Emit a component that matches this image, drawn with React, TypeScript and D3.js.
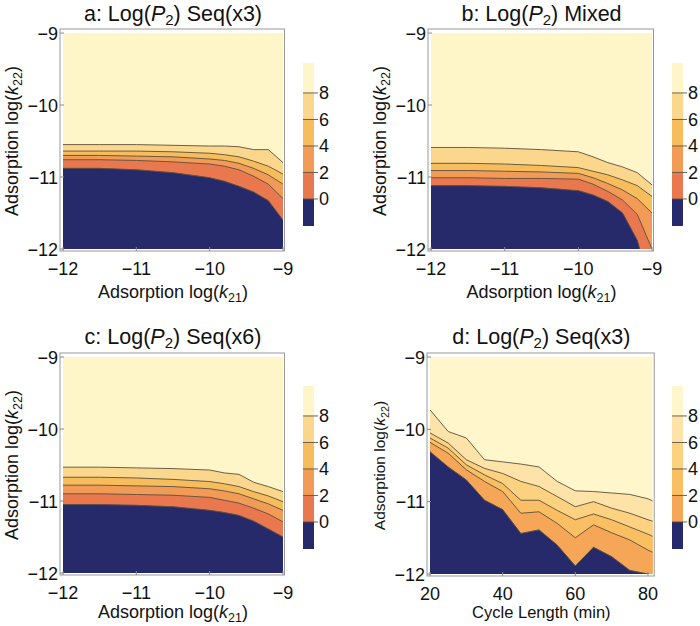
import React from "react";
import * as d3 from "d3";

const FONT = "'Liberation Sans', Arial, Helvetica, sans-serif";
const MINUS = "\u2212";

// tick labels
const kTicks = [-12, -11, -10, -9];
const cycleTicks = [20, 40, 60, 80];
const legendTicks = [0, 2, 4, 6, 8];

// colour bands: below 0, 0-2, 2-4, 4-6, 6-8, above 8
const paletteSeq = ["#262a6b", "#e9784f", "#f19b56", "#f7bd5c", "#fbd78e", "#fef5c8"];
const paletteCycle = ["#262a6b", "#f5a657", "#f9bf62", "#fcd281", "#fde3a8", "#fff6cc"];

// x grid for panels a-c: log(k21)
const kGrid = [-12, -11.5, -11, -10.5, -10, -9.8, -9.6, -9.4, -9.2, -9];

// panel a: contour positions (log k22) of Log(P2) = 0,2,4,6,8
const aLevel0 = [-10.88, -10.88, -10.9, -10.94, -11.01, -11.06, -11.13, -11.21, -11.33, -11.6];
const aLevel2 = [-10.76, -10.76, -10.77, -10.79, -10.82, -10.85, -10.9, -10.99, -11.1, -11.3];
const aLevel4 = [-10.7, -10.7, -10.71, -10.72, -10.75, -10.77, -10.81, -10.88, -10.97, -11.1];
const aLevel6 = [-10.64, -10.64, -10.64, -10.65, -10.67, -10.69, -10.72, -10.78, -10.85, -10.96];
const aLevel8 = [-10.55, -10.55, -10.55, -10.56, -10.57, -10.57, -10.58, -10.62, -10.62, -10.8];

// panel b
const bLevel0 = [-11.12, -11.12, -11.13, -11.15, -11.19, -11.25, -11.34, -11.5, -11.88, -12.6];
const bLevel2 = [-11.01, -11.01, -11.02, -11.02, -11.03, -11.1, -11.2, -11.32, -11.52, -12.0];
const bLevel4 = [-10.91, -10.91, -10.92, -10.93, -10.95, -11.01, -11.09, -11.18, -11.3, -11.5];
const bLevel6 = [-10.81, -10.81, -10.82, -10.84, -10.87, -10.92, -10.97, -11.04, -11.12, -11.27];
const bLevel8 = [-10.59, -10.59, -10.6, -10.62, -10.65, -10.72, -10.8, -10.86, -10.94, -11.11];

// panel c
const cLevel0 = [-11.05, -11.05, -11.06, -11.08, -11.13, -11.16, -11.2, -11.28, -11.39, -11.5];
const cLevel2 = [-10.9, -10.9, -10.91, -10.92, -10.95, -10.99, -11.03, -11.1, -11.18, -11.29];
const cLevel4 = [-10.78, -10.78, -10.79, -10.8, -10.83, -10.86, -10.9, -10.97, -11.04, -11.13];
const cLevel6 = [-10.67, -10.67, -10.68, -10.7, -10.73, -10.76, -10.8, -10.87, -10.93, -11.01];
const cLevel8 = [-10.53, -10.53, -10.54, -10.55, -10.57, -10.61, -10.63, -10.74, -10.8, -10.87];

// panel d: x = cycle length (min)
const cycleGrid = [20, 25, 30, 35, 40, 45, 50, 55, 60, 65, 70, 75, 80, 81.3];
const dLevel0 = [-10.31, -10.52, -10.7, -10.98, -11.11, -11.44, -11.39, -11.6, -11.89, -11.63, -11.76, -11.95, -12.0, -12.02];
const dLevel2 = [-10.18, -10.33, -10.56, -10.72, -10.86, -11.16, -11.14, -11.3, -11.5, -11.32, -11.43, -11.53, -11.67, -11.7];
const dLevel4 = [-10.12, -10.26, -10.49, -10.63, -10.75, -10.98, -10.98, -11.12, -11.25, -11.17, -11.25, -11.35, -11.45, -11.48];
const dLevel6 = [-10.05, -10.19, -10.42, -10.54, -10.61, -10.72, -10.79, -10.93, -11.07, -11.0, -11.09, -11.16, -11.25, -11.27];
const dLevel8 = [-9.73, -10.03, -10.12, -10.42, -10.45, -10.48, -10.52, -10.72, -10.85, -10.86, -10.88, -10.9, -10.96, -10.99];

const fmt = (v: number) => (v < 0 ? MINUS + Math.abs(v) : String(v));

type PanelProps = {
  id: string;
  letter: string;
  suffix: string;
  xs: number[];
  levels: number[][]; // 0,2,4,6,8
  palette: string[];
  xDom: [number, number];
  xRng: [number, number];
  yRng: [number, number];
  xTicks: number[];
  xLabel: "k21" | "cycle";
  yLabelSize: number;
  titleY: number;
  xLabelY: number;
  yLabelX: number;
  legendX: number;
  legendTop: number;
};

function Panel(p: PanelProps) {
  const x = d3.scaleLinear().domain(p.xDom).range(p.xRng);
  const y = d3.scaleLinear().domain([-9, -12]).range(p.yRng);
  const xmin = p.xs[0];
  const xmax = p.xs[p.xs.length - 1];
  const fx0 = x(xmin), fx1 = x(xmax), fy0 = y(-9), fy1 = y(-12);
  const frame = { l: fx0 - 3, r: fx1 + 1.5, t: fy0 - 4, b: fy1 + 2 };
  const area = d3
    .area<number>()
    .x((_, i) => x(p.xs[i]))
    .y0(y(-13))
    .y1((d) => y(d));
  const line = d3
    .line<number>()
    .x((_, i) => x(p.xs[i]))
    .y((d) => y(d));
  const clipId = "clip-" + p.id;
  const cx = (fx0 + fx1) / 2;
  const cy = (fy0 + fy1) / 2;

  // legend
  const lw = 11;
  const lh = 163;
  const ls = d3.scaleLinear().domain([-2.04, 10.26]).range([p.legendTop + lh, p.legendTop]);
  const bandEdges = [-2.04, 0, 2, 4, 6, 8, 10.26];

  const stroke = "#5b5140";
  const tickColor = "#8a8a8a";

  return (
    <g fontFamily={FONT}>
      <defs>
        <clipPath id={clipId}>
          <rect x={fx0} y={fy0} width={fx1 - fx0} height={fy1 - fy0} />
        </clipPath>
      </defs>
      <g clipPath={`url(#${clipId})`}>
        <rect x={fx0} y={fy0} width={fx1 - fx0} height={fy1 - fy0} fill={p.palette[5]} />
        {[4, 3, 2, 1, 0].map((k) => (
          <path key={"a" + k} d={area(p.levels[k]) || ""} fill={p.palette[k]} stroke={p.palette[k]} strokeWidth={0.3} />
        ))}
        {[4, 3, 2, 1, 0].map((k) => (
          <path key={"l" + k} d={line(p.levels[k]) || ""} fill="none" stroke={stroke} strokeWidth={0.9} />
        ))}
      </g>
      <rect x={frame.l} y={frame.t} width={frame.r - frame.l} height={frame.b - frame.t} fill="none" stroke="#999" strokeWidth={1} />
      {p.xTicks.map((t) => (
        <g key={"xt" + t}>
          <line x1={x(t)} x2={x(t)} y1={frame.b} y2={frame.b - 4} stroke={tickColor} strokeWidth={1} />
          <text x={x(t)} y={frame.b + 24} textAnchor="middle" fontSize={18} fill="#111">
            {fmt(t)}
          </text>
        </g>
      ))}
      {kTicks.map((t) => (
        <g key={"yt" + t}>
          <line x1={frame.l} x2={frame.l + 4} y1={y(t)} y2={y(t)} stroke={tickColor} strokeWidth={1} />
          <text x={frame.l - 2} y={y(t) + 6.5} textAnchor="end" fontSize={18} fill="#111">
            {fmt(t)}
          </text>
        </g>
      ))}
      <text x={cx} y={p.titleY} textAnchor="middle" fontSize={21.5} fill="#111">
        {p.letter}: Log(<tspan fontStyle="italic">P</tspan>
        <tspan fontSize={15} dy={4}>2</tspan>
        <tspan dy={-4}>) {p.suffix}</tspan>
      </text>
      {p.xLabel === "k21" ? (
        <text x={cx} y={p.xLabelY} textAnchor="middle" fontSize={18} fill="#111">
          Adsorption log(<tspan fontStyle="italic">k</tspan>
          <tspan fontSize={12.5} dy={4}>21</tspan>
          <tspan dy={-4}>)</tspan>
        </text>
      ) : (
        <text x={cx} y={p.xLabelY} textAnchor="middle" fontSize={16.5} fill="#111">
          Cycle Length (min)
        </text>
      )}
      <text
        transform={`translate(${p.yLabelX},${cy}) rotate(-90)`}
        textAnchor="middle"
        fontSize={p.yLabelSize}
        fill="#111"
      >
        Adsorption log(<tspan fontStyle="italic">k</tspan>
        <tspan fontSize={p.yLabelSize * 0.7} dy={4}>22</tspan>
        <tspan dy={-4}>)</tspan>
      </text>
      {/* legend */}
      {bandEdges.slice(0, -1).map((v, i) => (
        <rect
          key={"lb" + i}
          x={p.legendX}
          y={ls(bandEdges[i + 1])}
          width={lw}
          height={ls(v) - ls(bandEdges[i + 1])}
          fill={p.palette[i]}
        />
      ))}
      {legendTicks.map((t) => (
        <g key={"lt" + t}>
          <line x1={p.legendX} x2={p.legendX + lw + 4} y1={ls(t)} y2={ls(t)} stroke={stroke} strokeWidth={0.9} />
          <text x={p.legendX + lw + 5} y={ls(t) + 6.5} fontSize={18} fill="#111">
            {t}
          </text>
        </g>
      ))}
    </g>
  );
}

export default function App() {
  return (
    <svg width={700} height={626} style={{ display: "block", position: "absolute", left: 0, top: 0 }}>
      <rect width={700} height={626} fill="#fff" />
      <Panel
        id="a"
        letter="a"
        suffix="Seq(x3)"
        xs={kGrid}
        levels={[aLevel0, aLevel2, aLevel4, aLevel6, aLevel8]}
        palette={paletteSeq}
        xDom={[-12, -9]}
        xRng={[63, 283]}
        yRng={[33, 249]}
        xTicks={kTicks}
        xLabel="k21"
        yLabelSize={18}
        titleY={21}
        xLabelY={298}
        yLabelX={18}
        legendX={303}
        legendTop={63}
      />
      <Panel
        id="b"
        letter="b"
        suffix="Mixed"
        xs={kGrid}
        levels={[bLevel0, bLevel2, bLevel4, bLevel6, bLevel8]}
        palette={paletteSeq}
        xDom={[-12, -9]}
        xRng={[431, 652]}
        yRng={[33, 249]}
        xTicks={kTicks}
        xLabel="k21"
        yLabelSize={18}
        titleY={21}
        xLabelY={298}
        yLabelX={386}
        legendX={672}
        legendTop={63}
      />
      <Panel
        id="c"
        letter="c"
        suffix="Seq(x6)"
        xs={kGrid}
        levels={[cLevel0, cLevel2, cLevel4, cLevel6, cLevel8]}
        palette={paletteSeq}
        xDom={[-12, -9]}
        xRng={[63, 283]}
        yRng={[357, 573]}
        xTicks={kTicks}
        xLabel="k21"
        yLabelSize={18}
        titleY={344}
        xLabelY={618}
        yLabelX={18}
        legendX={303}
        legendTop={386}
      />
      <Panel
        id="d"
        letter="d"
        suffix="Seq(x3)"
        xs={cycleGrid}
        levels={[dLevel0, dLevel2, dLevel4, dLevel6, dLevel8]}
        palette={paletteCycle}
        xDom={[20, 80]}
        xRng={[430, 648]}
        yRng={[357, 574]}
        xTicks={cycleTicks}
        xLabel="cycle"
        yLabelSize={15.5}
        titleY={344}
        xLabelY={618}
        yLabelX={385}
        legendX={672}
        legendTop={386}
      />
    </svg>
  );
}
